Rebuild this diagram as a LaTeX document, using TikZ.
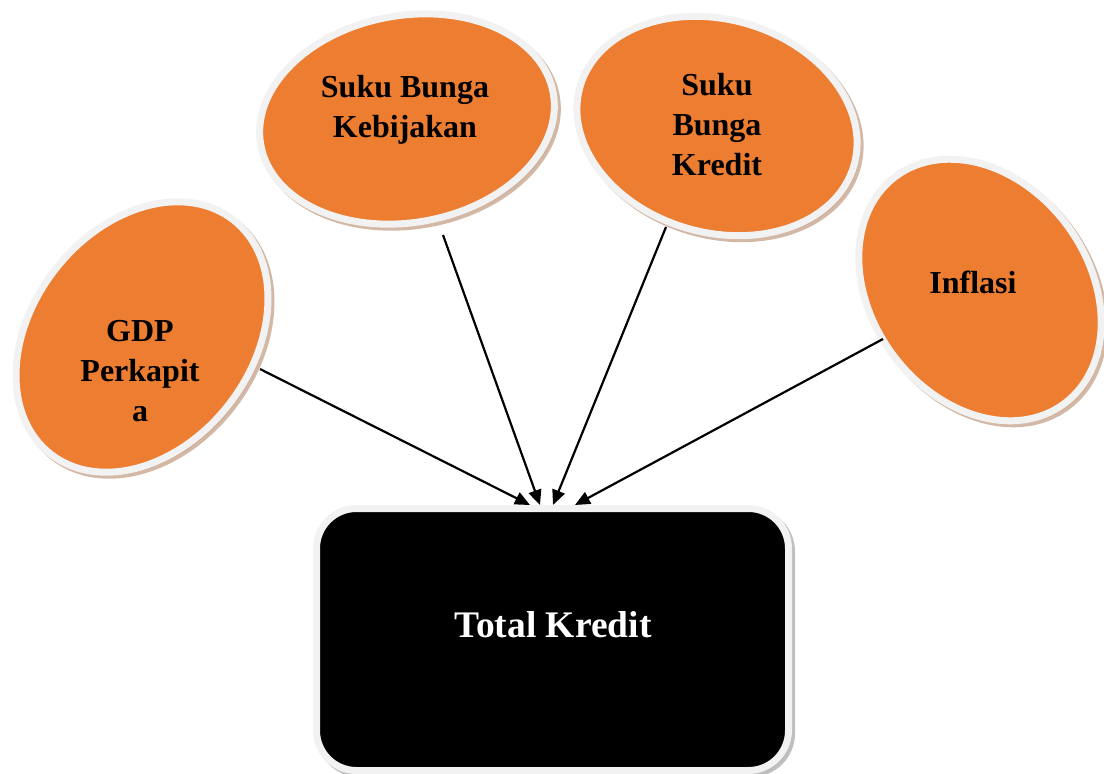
\documentclass[tikz,border=0pt]{standalone}
\usepackage{fontspec}
\setmainfont{Liberation Serif}
\usetikzlibrary{shapes.geometric,arrows.meta,shadows}
\definecolor{orng}{HTML}{ED7D31}
\definecolor{rim}{HTML}{F2F2F2}
\definecolor{eshadow}{RGB}{196,160,135}
\definecolor{bshadow}{RGB}{170,170,170}
\begin{document}
\begin{tikzpicture}[x=1pt,y=-1pt,
  bubble/.style={ellipse, fill=orng, draw=rim, line width=7pt, inner sep=0pt,
     drop shadow={shadow xshift=3pt, shadow yshift=-3pt, fill=eshadow, draw=eshadow, line width=7pt, opacity=0.75}},
  boxstyle/.style={rectangle, rounded corners=40pt, fill=black, draw=rim, line width=7pt, inner sep=0pt,
     minimum width=472pt, minimum height=262pt,
     drop shadow={shadow xshift=3pt, shadow yshift=-3pt, fill=bshadow, draw=bshadow, line width=7pt, opacity=0.75}},
  lbl/.style={font=\bfseries\fontsize{32}{40}\selectfont, align=center, inner sep=0pt, anchor=north},
  conn/.style={line width=2.2pt, -{Triangle[length=15pt,width=13pt]}}
]
\useasboundingbox (0,0) rectangle (1104,774);

% ellipses
\node[bubble, rotate=52, minimum width=297pt, minimum height=220pt] (gdp) at (142,337) {};
\node[bubble, rotate=10, minimum width=297pt, minimum height=207pt] (keb) at (407,119) {};
\node[bubble, rotate=-16, minimum width=285pt, minimum height=213pt] (kre) at (717,126) {};
\node[bubble, rotate=-53.5, minimum width=283pt, minimum height=217pt] (inf) at (980,290) {};

% box
\node[boxstyle] (tk) at (552.5,639.5) {};

% labels
\node[lbl] (gdpt) at (140,320.5) {GDP\\Perkapit\\a};
\node[lbl] (kebt) at (405,75.5) {Suku Bunga\\Kebijakan};
\node[lbl] (kret) at (717,73.5) {Suku\\Bunga\\Kredit};
\node[lbl, anchor=base] (inft) at (973,293) {Inflasi};
\node[font=\bfseries\fontsize{37.5}{42}\selectfont, text=white, inner sep=0pt, anchor=base] (tkt) at (553,637) {Total Kredit};

% connector start points on the ellipse rims
\coordinate (s1) at (260,369);
\coordinate (s2) at (443,235);
\coordinate (s3) at (666,227);
\coordinate (s4) at (883,339);

\draw[conn] (s1) -- ([xshift=-22.5pt]tk.north);
\draw[conn] (s2) -- ([xshift=-12.5pt]tk.north);
\draw[conn] (s3) -- ([xshift=0.5pt]tk.north);
\draw[conn] (s4) -- ([xshift=22.5pt]tk.north);
\end{tikzpicture}
\end{document}
